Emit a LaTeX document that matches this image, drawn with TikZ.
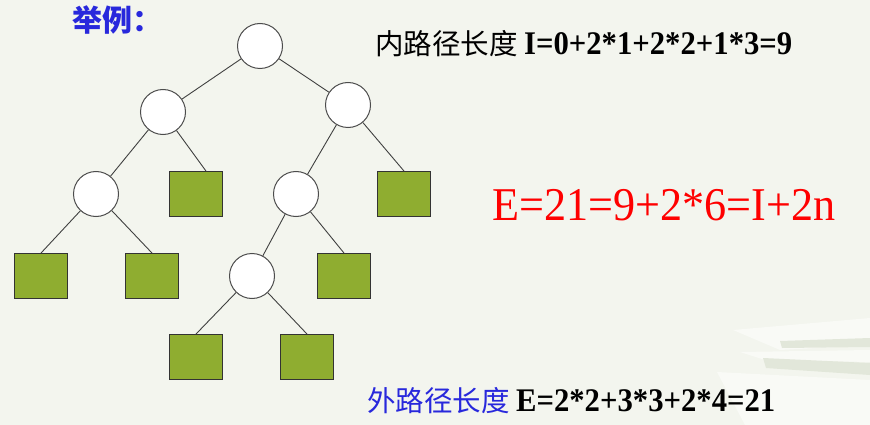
\documentclass[tikz,border=0pt]{standalone}
\usepackage{fontspec}
\setmainfont{Liberation Serif}
\newfontfamily\cjk{Noto Sans CJK SC}
\newfontfamily\formula[FakeStretch=0.93]{Liberation Serif}
\newfontfamily\bigformula[FakeStretch=0.94]{Liberation Serif}
\definecolor{bgcolor}{RGB}{243,245,238}
\definecolor{leafgreen}{RGB}{143,173,48}
\definecolor{titleblue}{RGB}{40,40,220}
\definecolor{pagelight}{RGB}{249,250,246}
\definecolor{pagedark}{RGB}{226,231,218}
\begin{document}
\begin{tikzpicture}[x=1pt, y=-1pt,
    inner/.style={circle, draw=black!70, fill=white, line width=1pt, minimum size=45pt, inner sep=0pt},
    leaf/.style={rectangle, draw=black!80, fill=leafgreen, line width=0.9pt, minimum width=53pt, minimum height=45pt, inner sep=0pt},
    branch/.style={draw=black!75, line width=0.9pt},
    label/.style={anchor=base west, inner sep=0pt}]

    % Tlo
    \fill[bgcolor] (0,0) rectangle (870,425);

    % Kartki w rogu
    \fill[pagelight] (733,330) -- (870,318) -- (870,345) -- (780,350) -- cycle;
    \fill[pagedark] (780,341) -- (870,338) -- (870,347) -- (782,348) -- cycle;
    \fill[pagelight] (740,352) -- (870,350) -- (870,362) -- (765,360) -- cycle;
    \fill[pagedark] (763,358) -- (870,363) -- (870,375) -- (766,368) -- cycle;
    \fill[pagelight] (717,372) -- (870,380) -- (870,425) -- (745,425) -- cycle;

    % Wezly wewnetrzne
    \node[inner] (root) at (260,46) {};
    \node[inner] (a) at (163,112) {};
    \node[inner] (b) at (348,105) {};
    \node[inner] (c) at (96,194) {};
    \node[inner] (d) at (296,194) {};
    \node[inner] (e) at (252,276) {};

    % Liscie
    \node[leaf] (l1) at (196,194) {};
    \node[leaf] (l2) at (404,194) {};
    \node[leaf] (l3) at (41,276) {};
    \node[leaf] (l4) at (152,276) {};
    \node[leaf] (l5) at (344,276) {};
    \node[leaf] (l6) at (196,357) {};
    \node[leaf] (l7) at (307,357) {};

    % Krawedzie
    \draw[branch] (root) -- (a);
    \draw[branch] (root) -- (b);
    \draw[branch] (a) -- (c);
    \draw[branch] (a) -- ([xshift=10pt]l1.north);
    \draw[branch] (b) -- (d);
    \draw[branch] (b) -- (l2.north);
    \draw[branch] (c) -- (l3.north);
    \draw[branch] (c) -- (l4.north);
    \draw[branch] (d) -- (e);
    \draw[branch] (d) -- (l5.north);
    \draw[branch] (e) -- (l6.north);
    \draw[branch] (e) -- (l7.north);

    % Napisy
    \node[label, text=titleblue, font=\fontsize{30}{30}\cjk\bfseries] (example) at (72,32) {举例：};
    \node[label, font=\fontsize{28.5}{30}\cjk] (inside) at (375,55)
        {内路径长度 {\fontsize{33}{33}\formula\bfseries I=0+2*1+2*2+1*3=9}};
    \node[label, text=red, font=\fontsize{47}{47}\bigformula] (relation) at (492,220) {E=21=9+2*6=I+2n};
    \node[label, text=titleblue, font=\fontsize{28.5}{30}\cjk] (outside) at (367,411)
        {外路径长度 {\color{black}\fontsize{33}{33}\formula\bfseries E=2*2+3*3+2*4=21}};
\end{tikzpicture}
\end{document}
